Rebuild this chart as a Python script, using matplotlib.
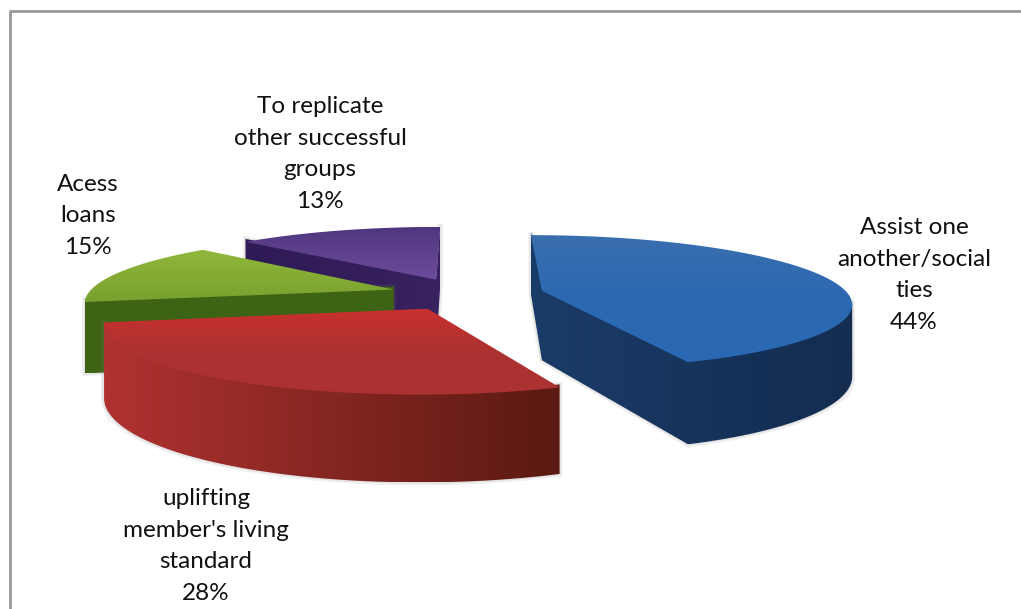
import numpy as np
import matplotlib
matplotlib.use('Agg')
import matplotlib.pyplot as plt
from matplotlib.colors import LinearSegmentedColormap
from matplotlib.patches import PathPatch
from matplotlib.path import Path

# slices, clockwise from 12 o'clock
labels = ['Assist one\nanother/social\nties', "uplifting\nmember's living\nstandard",
          'Acess\nloans', 'To replicate\nother successful\ngroups']
values = [44, 28, 15, 13]
top_cols = [('#3a6fae', '#2c68b2', '#2a68b4'), ('#c8302e', '#ac3231', '#ac3231'),
            ('#90b83c', '#78a02e'), ('#50367f', '#6c4c9c')]
wall_cols = [('#1a3c68', '#142c50'), ('#b03230', '#5a1a12'), ('#3c6414', '#3c6414'), ('#2e1a54', '#38225f')]
explode = [0.258, 0.245, 0.245, 0.245]
label_x = [914, 206, 88, 320]
label_y = [275, 546, 216, 154]

# camera, pixels
cx, cy = 465, 294
rx, ry = 306, 66
persp = 0.167
depth = 70


def project(wx, wy, z=0):
    d = 1 + persp * wy
    return cx + rx * wx / d, cy - ry * wy / d + z * depth / d


fig = plt.figure(figsize=(10.21, 6.09), dpi=100)
ax = fig.add_axes([0, 0, 1, 1])

# only top and left of the chart frame are in the crop
ax.plot([9.5, 9.5, 1021], [609, 10.5, 10.5], color='#999999', lw=2, solid_capstyle='butt')

starts = np.cumsum([0] + values[:-1]) / sum(values) * 2 * np.pi
sweeps = np.array(values) / sum(values) * 2 * np.pi


def fill_gradient(path, cols, horizontal, extent):
    cmap = LinearSegmentedColormap.from_list('g', cols)
    grad = np.linspace(0, 1, 128)
    grad = grad.reshape(1, -1) if horizontal else grad.reshape(-1, 1)
    im = ax.imshow(grad, cmap=cmap, aspect='auto', zorder=2, extent=extent, interpolation='bilinear')
    clip = PathPatch(path, transform=ax.transData, fc='none', ec='none')
    ax.add_patch(clip)
    im.set_clip_path(clip)


def draw_slice(i):
    t0 = starts[i]
    t1 = t0 + sweeps[i]
    mid = (t0 + t1) / 2
    ox, oy = explode[i] * np.sin(mid), explode[i] * np.cos(mid)
    th = np.linspace(t0, t1, 90)
    # outline: rim in angle order, then apex, then back to the start
    wx = np.r_[ox + np.sin(th), ox, ox + np.sin(t0)]
    wy = np.r_[oy + np.cos(th), oy, oy + np.cos(t0)]
    xs, ys = project(wx, wy)
    xb, yb = project(wx, wy, 1)

    # walls, a segment faces the viewer when the outline runs leftwards
    # upper edge starts 3px higher so it tucks under the top face
    verts, codes = [], []
    for k in range(len(xs) - 1):
        if xs[k + 1] >= xs[k]:
            continue
        verts += [(xs[k], ys[k] - 3), (xs[k + 1], ys[k + 1] - 3), (xb[k + 1], yb[k + 1]), (xb[k], yb[k]),
                  (xs[k], ys[k] - 3)]
        codes += [Path.MOVETO, Path.LINETO, Path.LINETO, Path.LINETO, Path.CLOSEPOLY]
    wall = Path(verts, codes)
    # soft grey halo round the walls
    for lw in (4, 2):
        ax.add_patch(PathPatch(wall, fc='none', ec='#777777', lw=lw, alpha=0.1, zorder=2))
    fill_gradient(wall, wall_cols[i], True, [xs.min(), xs.max(), yb.max(), ys.min() - 3])

    # top face
    top = Path(np.c_[xs, ys])
    fill_gradient(top, top_cols[i], False, [xs.min(), xs.max(), ys.max(), ys.min()])


# back to front
for i in [3, 2, 0, 1]:
    draw_slice(i)

ax.set_xlim(0, 1021)
ax.set_ylim(609, 0)
ax.axis('off')

plt.rcParams['font.family'] = ['Lato', 'DejaVu Sans']
for i in range(len(values)):
    ax.text(label_x[i], label_y[i], labels[i] + '\n' + str(values[i]) + '%', ha='center', va='center',
            fontsize=17.5, linespacing=1.63, color='#111111', zorder=5)

plt.savefig('out.png', dpi=100)
